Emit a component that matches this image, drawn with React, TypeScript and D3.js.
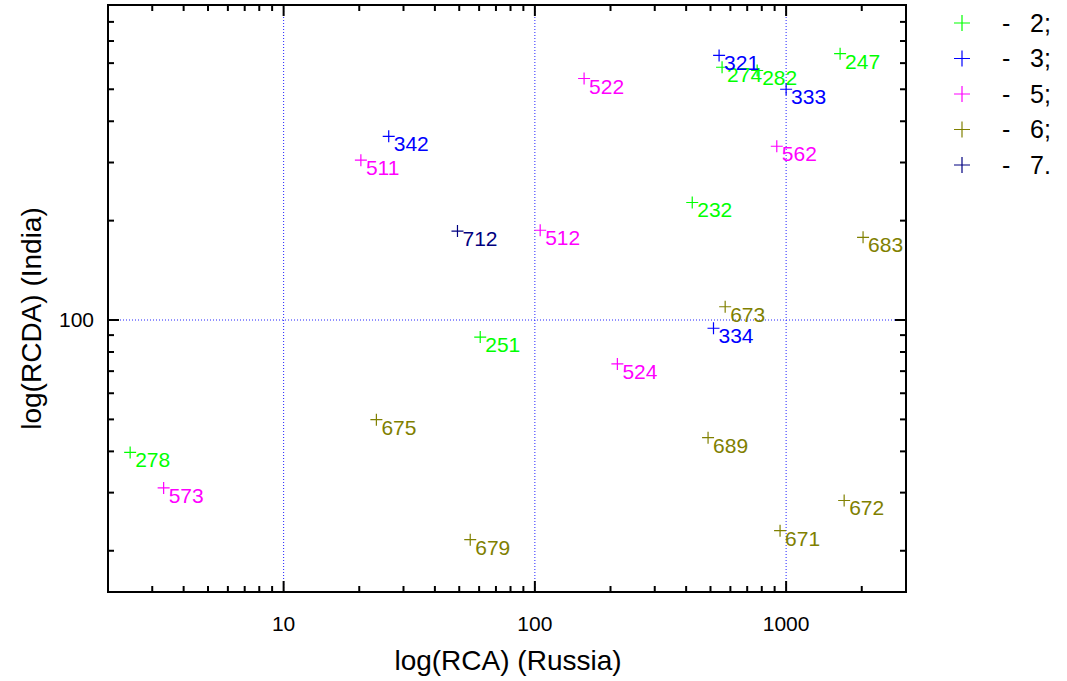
import React, { useEffect, useRef } from "react";
import * as d3 from "d3";

// product groups (first digit of code) and their colours
const groups = ["2", "3", "5", "6", "7"];
const groupColors = ["#00ff00", "#0000ff", "#ff00ff", "#808000", "#000080"];
const legendLabels = ["2;", "3;", "5;", "6;", "7."];

// points: product code, RCA (Russia), RCDA (India)
const codes = [
  "247", "274", "282", "232", "251", "278",
  "321", "333", "342", "334",
  "522", "511", "512", "562", "524", "573",
  "683", "673", "675", "689", "672", "671", "679",
  "712",
];
const rcaRussia = [
  1640, 556, 767, 423, 60.6, 2.45,
  541, 1000, 26.2, 514,
  157, 20.3, 105, 918, 213, 3.33,
  2024, 572, 23.4, 489, 1702, 946, 55.3,
  49.2,
];
const rcdaIndia = [
  641, 583, 570, 227, 88.8, 39.7,
  633, 500, 360, 94.4,
  539, 305, 187, 336, 73.6, 31.0,
  178, 109.7, 49.9, 44.0, 28.4, 23.0, 21.6,
  186,
];

const xTickValues = [10, 100, 1000];
const yTickValues = [100];

const App = () => {
  const ref = useRef<SVGSVGElement>(null);

  useEffect(() => {
    const width = 1067,
      height = 681;
    const left = 108,
      right = 906,
      top = 5,
      bottom = 592;

    const svg = d3.select(ref.current);
    svg.selectAll("*").remove();
    svg.attr("width", width).attr("height", height);

    const x = d3.scaleLog().domain([2, 3000]).range([left, right]);
    const y = d3.scaleLog().domain([15, 900]).range([bottom, top]);

    const font = "Liberation Sans, Arial, sans-serif";

    // grid lines
    svg
      .selectAll("line.gx")
      .data(xTickValues)
      .enter()
      .append("line")
      .attr("x1", (d) => x(d))
      .attr("x2", (d) => x(d))
      .attr("y1", top)
      .attr("y2", bottom)
      .attr("stroke", "#2222ff")
      .attr("stroke-dasharray", "1,2");
    svg
      .selectAll("line.gy")
      .data(yTickValues)
      .enter()
      .append("line")
      .attr("x1", left)
      .attr("x2", right)
      .attr("y1", (d) => y(d))
      .attr("y2", (d) => y(d))
      .attr("stroke", "#2222ff")
      .attr("stroke-dasharray", "1,2");

    // ticks (inward, on all four sides)
    const xTicks = x.ticks();
    const yTicks = y.ticks();
    const isMajor = (d) => Math.abs(Math.log10(d) - Math.round(Math.log10(d))) < 1e-6;

    xTicks.forEach((d) => {
      const len = isMajor(d) ? 11 : 6;
      svg.append("line").attr("x1", x(d)).attr("x2", x(d)).attr("y1", bottom).attr("y2", bottom - len)
        .attr("stroke", "black").attr("stroke-width", 2);
      svg.append("line").attr("x1", x(d)).attr("x2", x(d)).attr("y1", top).attr("y2", top + len)
        .attr("stroke", "black").attr("stroke-width", 2);
    });
    yTicks.forEach((d) => {
      const len = isMajor(d) ? 11 : 6;
      svg.append("line").attr("x1", left).attr("x2", left + len).attr("y1", y(d)).attr("y2", y(d))
        .attr("stroke", "black").attr("stroke-width", 2);
      svg.append("line").attr("x1", right).attr("x2", right - len).attr("y1", y(d)).attr("y2", y(d))
        .attr("stroke", "black").attr("stroke-width", 2);
    });

    // frame
    svg
      .append("rect")
      .attr("x", left)
      .attr("y", top)
      .attr("width", right - left)
      .attr("height", bottom - top)
      .attr("fill", "none")
      .attr("stroke", "black")
      .attr("stroke-width", 2);

    // tick labels
    svg
      .selectAll("text.xt")
      .data(xTickValues)
      .enter()
      .append("text")
      .attr("x", (d) => x(d))
      .attr("y", bottom + 39)
      .attr("text-anchor", "middle")
      .style("font-family", font)
      .style("font-size", "21px")
      .text((d) => d);
    svg
      .selectAll("text.yt")
      .data(yTickValues)
      .enter()
      .append("text")
      .attr("x", left - 14)
      .attr("y", (d) => y(d))
      .attr("dy", "0.35em")
      .attr("text-anchor", "end")
      .style("font-family", font)
      .style("font-size", "21px")
      .text((d) => d);

    // axis titles
    svg
      .append("text")
      .attr("x", 508)
      .attr("y", 670)
      .attr("text-anchor", "middle")
      .style("font-family", font)
      .style("font-size", "28px")
      .text("log(RCA) (Russia)");
    svg
      .append("text")
      .attr("transform", `translate(41,${(top + bottom) / 2 + 20}) rotate(-90)`)
      .attr("text-anchor", "middle")
      .style("font-family", font)
      .style("font-size", "28px")
      .text("log(RCDA) (India)");

    // points
    const color = d3.scaleOrdinal<string, string>().domain(groups).range(groupColors);
    const data = codes.map((c, i) => ({ code: c, rx: rcaRussia[i], ry: rcdaIndia[i] }));
    const s = 6;

    const pts = svg
      .selectAll("g.pt")
      .data(data)
      .enter()
      .append("g")
      .attr("transform", (d) => `translate(${x(d.rx)},${y(d.ry)})`);
    pts.append("path")
      .attr("d", `M${-s},0H${s}M0,${-s}V${s}`)
      .attr("stroke", (d) => color(d.code[0]))
      .attr("stroke-width", 1.2)
      .attr("fill", "none");
    pts.append("text")
      .attr("x", 5)
      .attr("y", 15)
      .attr("fill", (d) => color(d.code[0]))
      .style("font-family", font)
      .style("font-size", "21px")
      .text((d) => d.code);

    // legend
    const leg = svg
      .selectAll("g.leg")
      .data(groups)
      .enter()
      .append("g")
      .attr("transform", (d, i) => `translate(962,${23 + i * 35.5})`);
    leg.append("path")
      .attr("d", `M-8,0H8M0,-8V8`)
      .attr("stroke", (d) => color(d))
      .attr("stroke-width", 1.2);
    leg.append("text")
      .attr("x", 40)
      .attr("dy", "0.35em")
      .style("font-family", font)
      .style("font-size", "25px")
      .text("-");
    leg.append("text")
      .attr("x", 68)
      .attr("dy", "0.35em")
      .style("font-family", font)
      .style("font-size", "25px")
      .text((d, i) => legendLabels[i]);
  }, []);

  return <svg ref={ref} style={{ position: "absolute", left: 0, top: 0 }}></svg>;
};

export default App;
